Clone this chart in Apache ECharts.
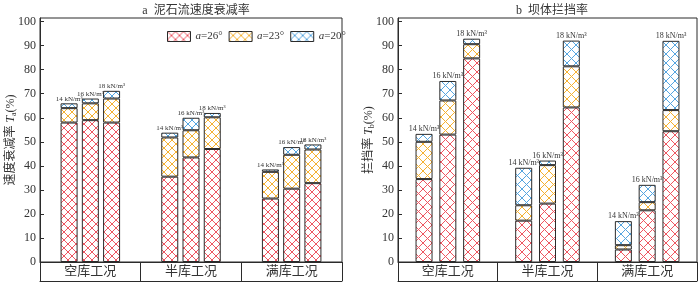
<!DOCTYPE html>
<html><head><meta charset="utf-8">
<script src="https://cdn.jsdelivr.net/npm/echarts@6/dist/echarts.min.js"></script>
<style>html,body{margin:0;padding:0;background:#fff}#c{width:700px;height:282px}</style>
</head><body><div id="c"></div>
<script>
// ---------- data ----------
const categories = ['空库工况', '半库工况', '满库工况'];
const densityLabels = ['14 kN/m³', '16 kN/m³', '18 kN/m³'];
const seriesNames = ['a=26°', 'a=23°', 'a=20°'];
const yTicks = [0, 10, 20, 30, 40, 50, 60, 70, 80, 90, 100];

// Chart a: cumulative top of each coloured segment, per category [空库, 半库, 满库]
const taRed14 = [58, 35.5, 26.4], taRed16 = [59, 43.5, 30.5], taRed18 = [58, 47, 32.8];
const taOrange14 = [64, 51.8, 37.5], taOrange16 = [66, 54.8, 44.6], taOrange18 = [68, 60.2, 46.8];
const taBlue14 = [66, 53.8, 38.5], taBlue16 = [68, 60, 47.8], taBlue18 = [71.2, 62, 48.9];

// Chart b
const tbRed14 = [34.5, 17.2, 5.2], tbRed16 = [53, 24.3, 21.5], tbRed18 = [84.7, 64.3, 54.4];
const tbOrange14 = [50, 23.6, 7], tbOrange16 = [67.2, 40.3, 24.9], tbOrange18 = [90.6, 81.4, 63.2];
const tbBlue14 = [53.3, 39.2, 17], tbBlue16 = [75.3, 42.2, 32.1], tbBlue18 = [92.9, 92.1, 92];

// ---------- styles ----------
const COLORS = ['#ee5661', '#f5b132', '#55a5e0'];
const BORDER = '#2b2b2b';
const SERIF = '"Liberation Serif", "Noto Sans CJK SC", serif';

function hatch(color, w, h) {
  const c = document.createElement('canvas');
  c.width = w; c.height = h;
  const g = c.getContext('2d');
  g.fillStyle = '#fff'; g.fillRect(0, 0, w, h);
  g.strokeStyle = color; g.lineWidth = 1;
  g.beginPath();
  g.moveTo(-1, -h / w); g.lineTo(w + 1, h + h / w);
  g.moveTo(w + 1, -h / w); g.lineTo(-1, h + h / w);
  g.stroke();
  return { image: c, repeat: 'repeat' };
}
const patA = COLORS.map(c => hatch(c, 8, 8));
const patB = COLORS.map(c => hatch(c, 9, 9));

function diff(a, b) { return a.map((v, i) => +(v - (b ? b[i] : 0)).toFixed(2)); }

function buildSeries(xi, pats, reds, oranges, blues, labelSize, gap) {
  const out = [];
  for (let d = 0; d < 3; d++) {
    const segs = [diff(reds[d]), diff(oranges[d], reds[d]), diff(blues[d], oranges[d])];
    for (let k = 0; k < 3; k++) {
      const s = {
        type: 'bar', name: seriesNames[k], stack: 'g' + xi + '_' + d,
        xAxisIndex: xi, yAxisIndex: xi,
        barWidth: 17, barGap: gap,
        data: segs[k],
        itemStyle: { color: pats[k], borderColor: BORDER, borderWidth: 1 },
        emphasis: { disabled: true },
        animation: false
      };
      if (k === 2) {
        s.label = {
          show: true, position: 'top', distance: 1,
          formatter: () => densityLabels[d],
          fontFamily: SERIF, fontSize: labelSize, color: '#333'
        };
      }
      out.push(s);
    }
  }
  return out;
}

const series = [].concat(
  buildSeries(0, patA, [taRed14, taRed16, taRed18], [taOrange14, taOrange16, taOrange18], [taBlue14, taBlue16, taBlue18], 7, '25%'),
  buildSeries(1, patB, [tbRed14, tbRed16, tbRed18], [tbOrange14, tbOrange16, tbOrange18], [tbBlue14, tbBlue16, tbBlue18], 8, '40%')
);

const grids = [
  { left: 40, right: 358, top: 18, bottom: 20 },
  { left: 398, right: 3, top: 18, bottom: 20 }
].map(g => Object.assign(g, { show: true, borderColor: BORDER, borderWidth: 1, containLabel: false }));

function mainX(i) {
  return {
    type: 'category', gridIndex: i, data: categories,
    axisLine: { lineStyle: { color: BORDER, width: 1 } },
    axisTick: { show: true, length: 19, lineStyle: { color: BORDER } },
    axisLabel: { fontFamily: SERIF, fontSize: 13, color: '#333', margin: 3 }
  };
}
function bandX(i) {
  return {
    type: 'category', gridIndex: i, data: categories, position: 'bottom', offset: 19,
    axisLine: { lineStyle: { color: BORDER, width: 1 } },
    axisTick: { show: false }, axisLabel: { show: false }
  };
}
function yAx(i, name, gap) {
  return {
    type: 'value', gridIndex: i, min: yTicks[0], max: 101.5, interval: yTicks[1] - yTicks[0],
    name: name, nameLocation: 'middle', nameGap: gap, nameRotate: 90, nameMoveOverlap: false,
    nameTextStyle: {
      fontFamily: SERIF, fontSize: 12, color: '#333',
      rich: { i: { fontStyle: 'italic', fontFamily: SERIF, fontSize: 12, color: '#333' },
              s: { fontFamily: SERIF, fontSize: 8, color: '#333', padding: [6, 0, 0, 0] } }
    },
    axisLine: { show: true, lineStyle: { color: BORDER } },
    axisTick: { show: true, inside: true, length: 4, lineStyle: { color: BORDER } },
    axisLabel: { fontFamily: SERIF, fontSize: 12, color: '#333', margin: 4, showMaxLabel: false },
    splitLine: { show: false }
  };
}

const option = {
  animation: false,
  backgroundColor: '#fff',
  title: [
    { text: 'a  泥石流速度衰减率', left: 191, textAlign: 'center', top: 0,
      textStyle: { fontFamily: SERIF, fontSize: 12, fontWeight: 'normal', color: '#333' } },
    { text: 'b  坝体拦挡率', left: 547, textAlign: 'center', top: 0,
      textStyle: { fontFamily: SERIF, fontSize: 12, fontWeight: 'normal', color: '#333' } }
  ],
  legend: {
    data: seriesNames, left: 162, top: 26, icon: 'rect',
    itemWidth: 23, itemHeight: 10, itemGap: 6,
    itemStyle: { borderColor: BORDER, borderWidth: 1 },
    formatter: n => '{i|a}' + n.slice(1),
    textStyle: { fontFamily: SERIF, fontSize: 11, color: '#333',
      rich: { i: { fontStyle: 'italic', fontFamily: SERIF, fontSize: 11, color: '#333' } } },
    selectedMode: false
  },
  grid: grids,
  xAxis: [mainX(0), mainX(1), bandX(0), bandX(1)],
  yAxis: [yAx(0, '速度衰减率 {i|T}{s|a}(%)', 22), yAx(1, '拦挡率 {i|T}{s|b}(%)', 22)],
  series: series
};
echarts.init(document.getElementById('c'), null, { renderer: 'canvas' }).setOption(option);
</script></body></html>
